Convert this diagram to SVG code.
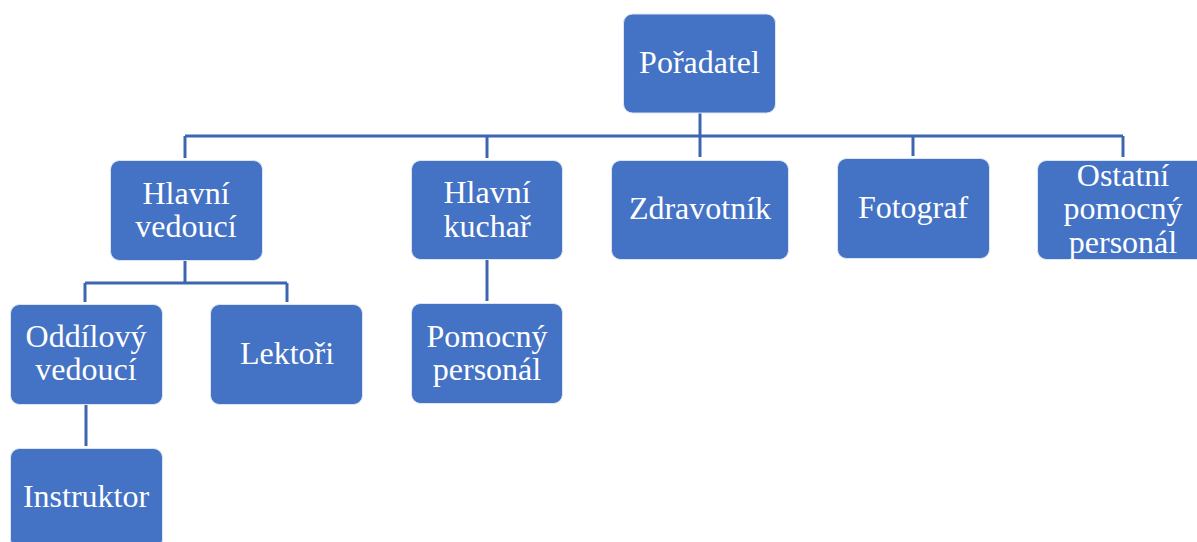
<svg xmlns="http://www.w3.org/2000/svg" width="1197" height="542" viewBox="0 0 1197 542">
<style>
.box{fill:#4472C4;stroke:#DDE5F3;stroke-width:1}
.lbl{font-family:"Liberation Serif","Times New Roman",serif;font-size:32px;fill:#FFFFFF;text-anchor:middle}
.con{stroke:#3D66B0;stroke-width:3;fill:none}
</style>
<rect width="1197" height="542" fill="#FFFFFF"/>
<g id="connectors">
<path class="con" d="M700 113V157"/>
<path class="con" d="M185 136H1123"/>
<path class="con" d="M185 136V158"/>
<path class="con" d="M487 136V158"/>
<path class="con" d="M913 136V156"/>
<path class="con" d="M1123 136V157"/>
<path class="con" d="M185 260V283M85 283H287M85 283V302M287 283V302"/>
<path class="con" d="M86 404V446"/>
<path class="con" d="M487 259V301"/>
</g>
<g id="n-poradatel"><rect class="box" x="623.5" y="14" width="152" height="99" rx="9"/><text class="lbl" x="699.5" y="73">Pořadatel</text></g>
<g id="n-hlavni-vedouci"><rect class="box" x="110.5" y="160.5" width="152" height="100" rx="9"/><text class="lbl" x="186" y="204">Hlavní</text><text class="lbl" x="186" y="237">vedoucí</text></g>
<g id="n-hlavni-kuchar"><rect class="box" x="411.5" y="160.5" width="151" height="99" rx="9"/><text class="lbl" x="487" y="203">Hlavní</text><text class="lbl" x="487" y="237">kuchař</text></g>
<g id="n-zdravotnik"><rect class="box" x="611.5" y="160.5" width="177" height="99" rx="9"/><text class="lbl" x="700" y="219">Zdravotník</text></g>
<g id="n-fotograf"><rect class="box" x="837.5" y="158.5" width="152" height="100" rx="9"/><text class="lbl" x="913" y="218">Fotograf</text></g>
<g id="n-ostatni"><rect class="box" x="1037.5" y="160.5" width="172" height="99" rx="9"/><text class="lbl" x="1123" y="186">Ostatní</text><text class="lbl" x="1123" y="219">pomocný</text><text class="lbl" x="1123" y="253">personál</text></g>
<g id="n-oddilovy"><rect class="box" x="10.5" y="304.5" width="152" height="100" rx="9"/><text class="lbl" x="86" y="347">Oddílový</text><text class="lbl" x="86" y="380">vedoucí</text></g>
<g id="n-lektori"><rect class="box" x="210.5" y="304.5" width="152" height="100" rx="9"/><text class="lbl" x="287" y="364">Lektoři</text></g>
<g id="n-pomocny"><rect class="box" x="411.5" y="303.5" width="151" height="100" rx="9"/><text class="lbl" x="487" y="347">Pomocný</text><text class="lbl" x="487" y="380">personál</text></g>
<g id="n-instruktor"><rect class="box" x="10.5" y="448.5" width="152" height="100" rx="9"/><text class="lbl" x="86" y="507">Instruktor</text></g>
</svg>
